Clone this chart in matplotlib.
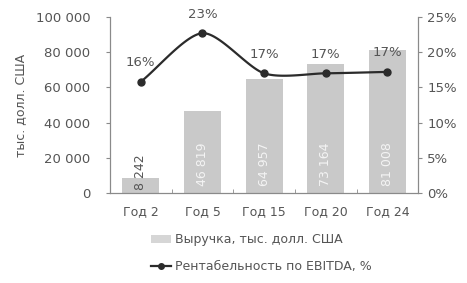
'''
Revenue and EBITDA margin combo chart.
'''

import numpy as np
import matplotlib.pyplot as plt
from matplotlib.lines import Line2D
from matplotlib.patches import Patch
from matplotlib.ticker import FuncFormatter

years = ['Год 2', 'Год 5', 'Год 15', 'Год 20', 'Год 24']
revenue = [8242, 46819, 64957, 73164, 81008]
margin = [0.158, 0.227, 0.170, 0.170, 0.172]

bar_color = '#c9c9c9'
line_color = '#2b2b2b'
text_color = '#555555'
axis_color = '#8a8a8a'

plt.rcParams['font.family'] = ['DejaVu Sans']


def smooth(x, y, steps=30, tension=0.8):
    '''Smooth line through points (like Excel's smoothed line).'''
    x = np.asarray(x, float)
    y = np.asarray(y, float)
    px = np.concatenate([[2 * x[0] - x[1]], x, [2 * x[-1] - x[-2]]])
    py = np.concatenate([[2 * y[0] - y[1]], y, [2 * y[-1] - y[-2]]])
    xs, ys = [], []
    t = np.linspace(0, 1, steps)
    h00 = 2 * t ** 3 - 3 * t ** 2 + 1
    h10 = t ** 3 - 2 * t ** 2 + t
    h01 = -2 * t ** 3 + 3 * t ** 2
    h11 = t ** 3 - t ** 2
    for i in range(1, len(px) - 2):
        for p, out in ((px, xs), (py, ys)):
            m1 = tension * 0.5 * (p[i + 1] - p[i - 1])
            m2 = tension * 0.5 * (p[i + 2] - p[i])
            out.extend(h00 * p[i] + h10 * m1 + h01 * p[i + 1] + h11 * m2)
    return np.array(xs), np.array(ys)


fig = plt.figure(figsize=(4.67, 2.83), dpi=100)
ax = fig.add_axes([0.2355, 0.318, 0.66, 0.622])
ax2 = ax.twinx()

idx = np.arange(len(years))
ax.bar(idx, revenue, width=0.6, color=bar_color, zorder=1)
for i, v in enumerate(revenue):
    ax.text(i, 1500 if i == 0 else 4000, f'{v:,}'.replace(',', ' '),
            rotation=90, ha='center', va='bottom', fontsize=9,
            color='#f4f4f4' if i > 0 else text_color, zorder=3)

sx, sy = smooth(idx, margin)
ax2.plot(sx, sy, color=line_color, lw=1.6, zorder=4)
ax2.plot(idx, margin, 'o', color=line_color, ms=5, zorder=5)
for i, m in enumerate(margin):
    ax2.text(i, m + 0.018, f'{m * 100:.0f}%', ha='center', va='bottom',
             fontsize=9.5, color=text_color)

ax.set_xlim(-0.5, len(years) - 0.5)
ax.set_ylim(0, 100000)
ax.set_yticks(range(0, 100001, 20000))
ax.yaxis.set_major_formatter(FuncFormatter(lambda v, p: f'{int(v):,}'.replace(',', ' ')))
ax2.set_ylim(0, 0.25)
ax2.set_yticks(np.arange(0, 0.2501, 0.05))
ax2.yaxis.set_major_formatter(FuncFormatter(lambda v, p: f'{v * 100:.0f}%'))

ax.set_xticks(idx)
ax.set_xticklabels(years)
ax.set_xticks(np.arange(-0.5, len(years), 1), minor=True)
ax.tick_params(axis='x', which='major', length=0, pad=9, labelsize=9, colors=text_color)
ax.tick_params(axis='x', which='minor', length=3, color=axis_color, direction='in')
ax.tick_params(axis='y', length=3, pad=11, color=axis_color, labelsize=9.5, labelcolor=text_color)
ax2.tick_params(axis='y', length=3, color=axis_color, labelsize=9.5, labelcolor=text_color)

for a in (ax, ax2):
    a.spines['top'].set_visible(False)
    for s in ('left', 'right', 'bottom'):
        a.spines[s].set_color(axis_color)
        a.spines[s].set_linewidth(0.8)

ax.set_ylabel('тыс. долл. США', fontsize=9, color=text_color, labelpad=6)

handles = [Patch(facecolor='#d6d6d6', edgecolor='none'),
           Line2D([0], [0], color=line_color, lw=1.6, marker='o', ms=4)]
labels = ['Выручка, тыс. долл. США', 'Рентабельность по EBITDA, %']
fig.legend(handles, labels, loc='lower left', bbox_to_anchor=(0.3, -0.005),
           frameon=False, fontsize=9, labelcolor=text_color,
           handlelength=1.6, handleheight=0.6, handletextpad=0.3, labelspacing=1.1)

fig.savefig('out.png', dpi=100)
